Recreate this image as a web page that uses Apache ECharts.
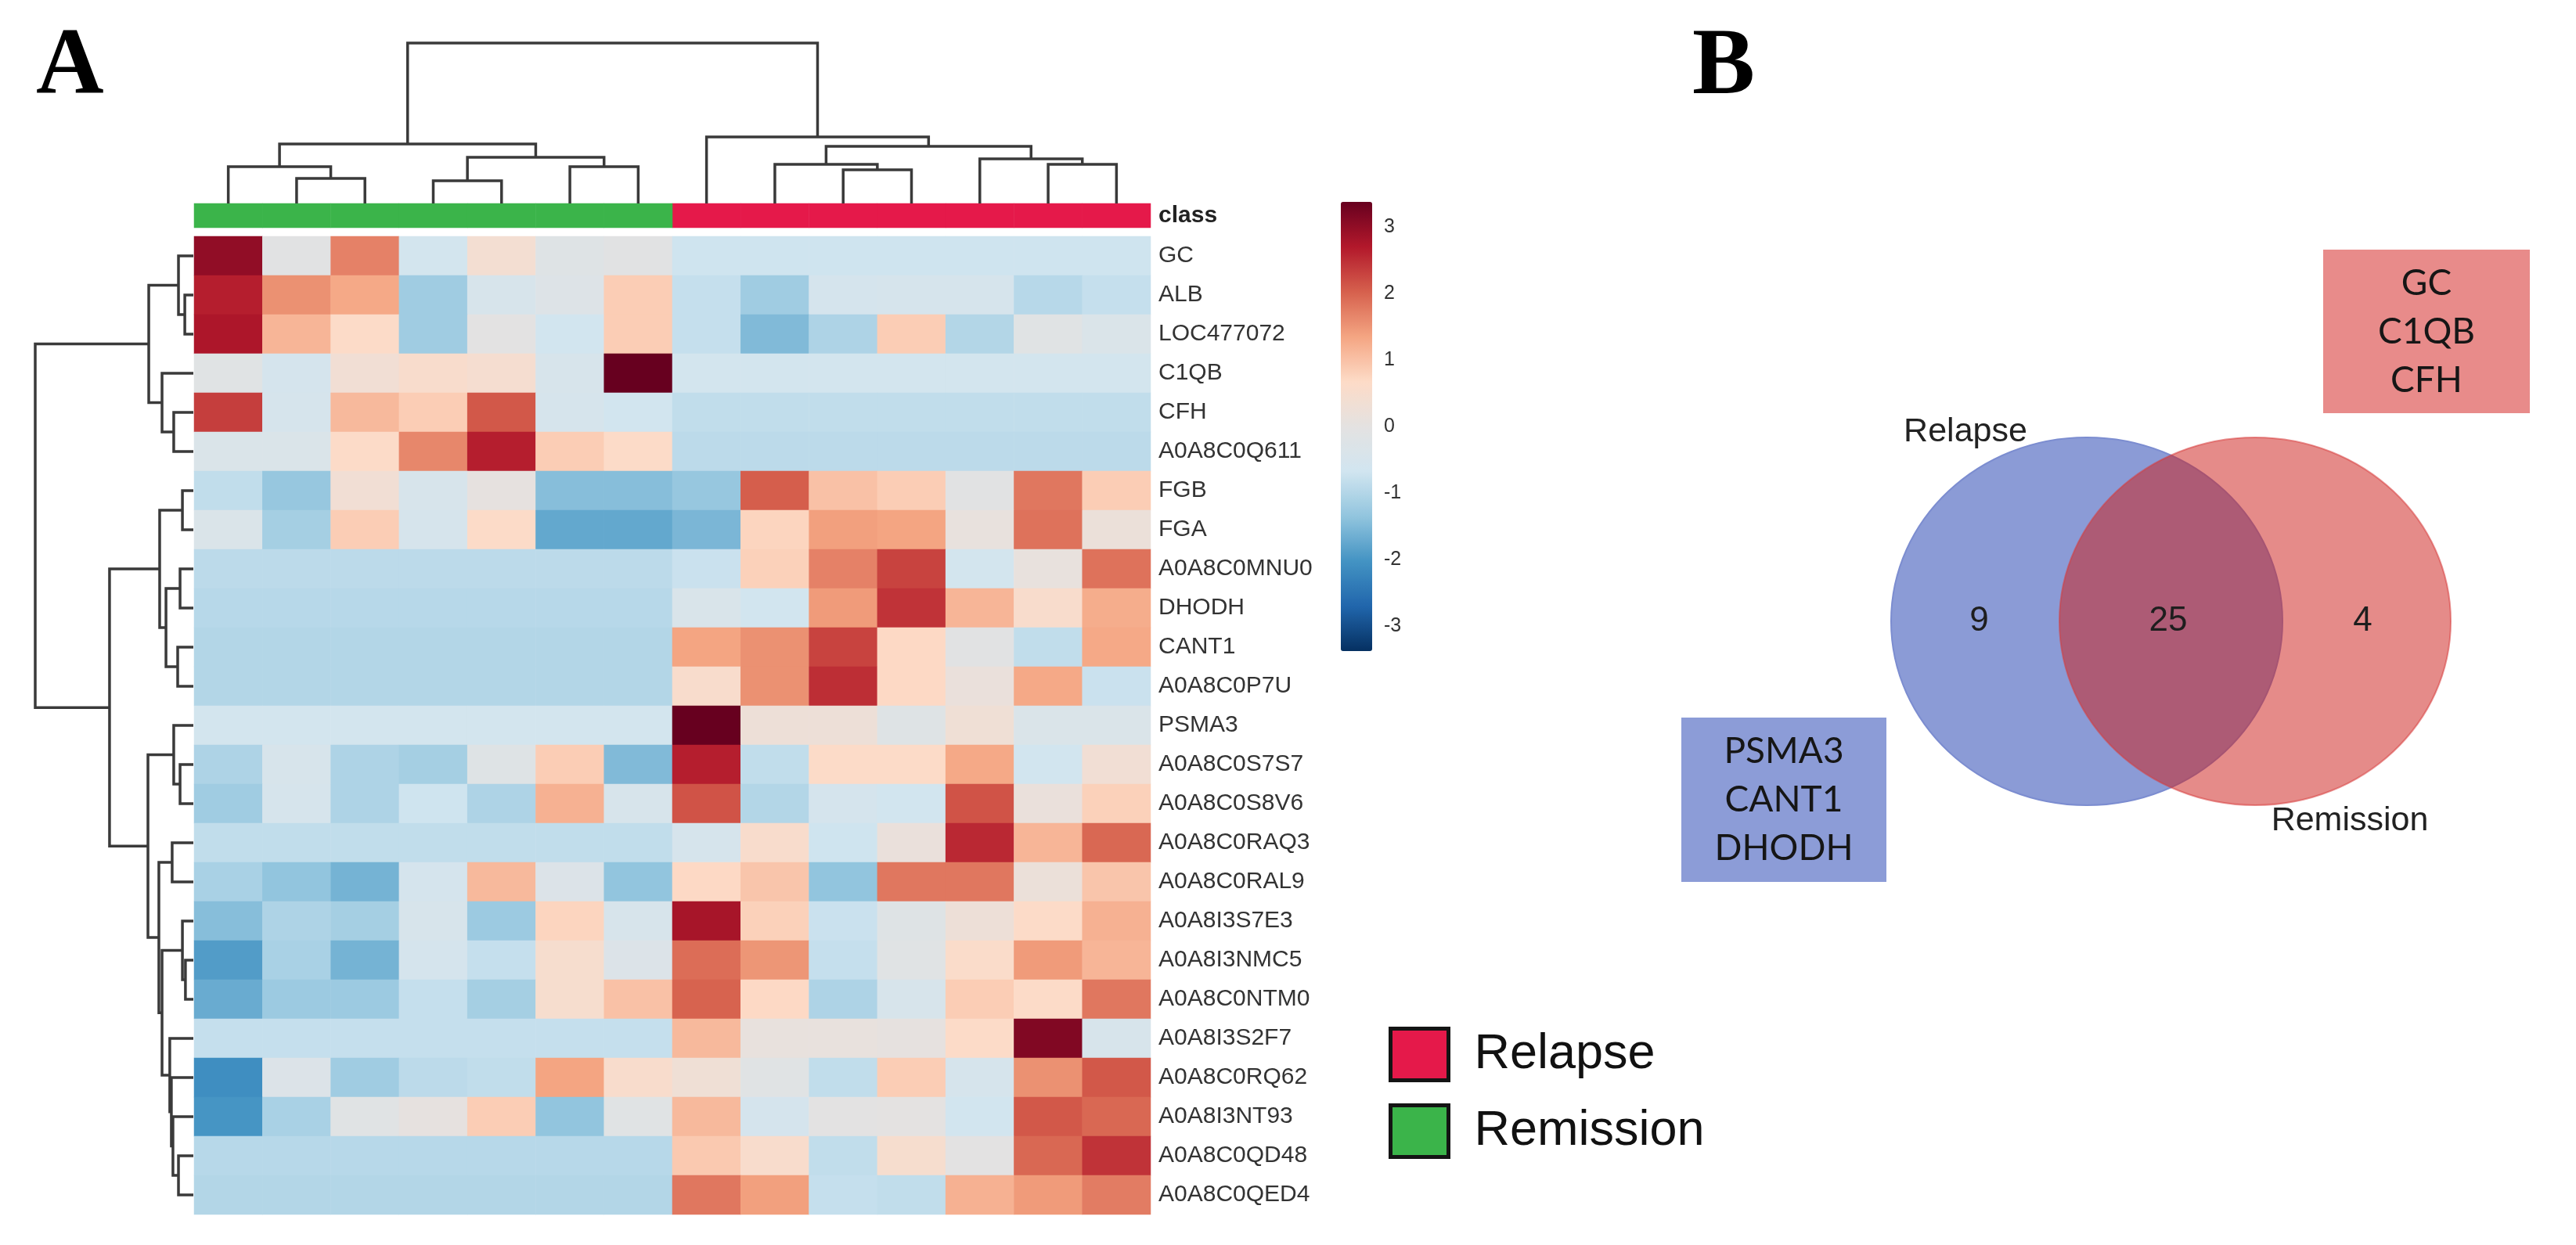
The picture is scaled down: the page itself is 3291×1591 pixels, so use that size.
<!DOCTYPE html>
<html><head><meta charset="utf-8">
<script src="https://cdn.jsdelivr.net/npm/echarts@6/dist/echarts.min.js"></script>
<style>html,body{margin:0;padding:0;background:#fff}#c{width:3291px;height:1591px}</style>
</head><body><div id="c"></div>
<script>
// ---------------- DATA ----------------
const proteins = ['GC','ALB','LOC477072','C1QB','CFH','A0A8C0Q611','FGB','FGA','A0A8C0MNU0','DHODH','CANT1','A0A8C0P7U','PSMA3','A0A8C0S7S7','A0A8C0S8V6','A0A8C0RAQ3','A0A8C0RAL9','A0A8I3S7E3','A0A8I3NMC5','A0A8C0NTM0','A0A8I3S2F7','A0A8C0RQ62','A0A8I3NT93','A0A8C0QD48','A0A8C0QED4'];
const samples = ['S1','S2','S3','S4','S5','S6','S7','S8','S9','S10','S11','S12','S13','S14'];
const sampleClass = ['Remission','Remission','Remission','Remission','Remission','Remission','Remission','Relapse','Relapse','Relapse','Relapse','Relapse','Relapse','Relapse'];
const classNames = ['Relapse','Remission'];
// z-scores, one row per protein, columns in sample order
const zGC    = [3.0,-0.1,1.7,-0.6,0.4,-0.2,-0.1,-0.7,-0.7,-0.7,-0.7,-0.7,-0.7,-0.7];
const zALB   = [2.65,1.55,1.3,-1.2,-0.45,-0.25,0.85,-0.8,-1.2,-0.55,-0.5,-0.5,-0.95,-0.8];
const zLOC   = [2.75,1.15,0.65,-1.2,-0.05,-0.65,0.85,-0.8,-1.5,-1.05,0.85,-1.0,-0.15,-0.35];
const zC1QB  = [-0.15,-0.55,0.35,0.55,0.45,-0.45,3.4,-0.6,-0.6,-0.6,-0.6,-0.6,-0.6,-0.6];
const zCFH   = [2.35,-0.5,1.1,0.85,2.1,-0.5,-0.65,-0.85,-0.85,-0.85,-0.85,-0.85,-0.85,-0.85];
const zQ611  = [-0.35,-0.35,0.65,1.65,2.65,0.85,0.65,-0.9,-0.9,-0.9,-0.9,-0.9,-0.9,-0.9];
const zFGB   = [-0.85,-1.3,0.35,-0.45,0.05,-1.45,-1.45,-1.3,2.05,1.0,0.85,-0.1,1.8,0.85];
const zFGA   = [-0.35,-1.15,0.85,-0.5,0.65,-1.75,-1.75,-1.55,0.75,1.4,1.35,0.1,1.85,0.2];
const zMNU0  = [-0.9,-0.9,-0.9,-0.9,-0.9,-0.9,-0.9,-0.75,0.8,1.7,2.3,-0.6,0.1,1.85];
const zDHODH = [-0.95,-0.95,-0.95,-0.95,-0.95,-0.95,-0.95,-0.4,-0.65,1.45,2.45,1.15,0.55,1.25];
const zCANT1 = [-1.0,-1.0,-1.0,-1.0,-1.0,-1.0,-1.0,1.35,1.55,2.3,0.7,-0.1,-0.85,1.3];
const zP7U   = [-1.0,-1.0,-1.0,-1.0,-1.0,-1.0,-1.0,0.55,1.55,2.5,0.7,0.15,1.3,-0.75];
const zPSMA3 = [-0.6,-0.6,-0.6,-0.6,-0.6,-0.6,-0.6,3.4,0.25,0.25,-0.2,0.3,-0.35,-0.35];
const zS7S7  = [-1.05,-0.45,-1.05,-1.15,-0.2,0.85,-1.5,2.65,-0.85,0.65,0.65,1.3,-0.65,0.35];
const zS8V6  = [-1.2,-0.5,-1.05,-0.7,-1.05,1.2,-0.45,2.15,-1.0,-0.55,-0.65,2.15,0.15,0.8];
const zRAQ3  = [-0.85,-0.85,-0.85,-0.85,-0.85,-0.85,-0.85,-0.5,0.55,-0.7,0.15,2.55,1.15,1.95];
const zRAL9  = [-1.1,-1.35,-1.6,-0.55,1.1,-0.3,-1.35,0.7,0.95,-1.35,1.8,1.8,0.2,0.95];
const zS7E3  = [-1.45,-1.05,-1.15,-0.45,-1.25,0.75,-0.45,2.8,0.8,-0.75,-0.2,0.25,0.65,1.2];
const zNMC5  = [-1.9,-1.1,-1.6,-0.55,-0.8,0.5,-0.3,1.9,1.5,-0.8,-0.15,0.6,1.45,1.15];
const zNTM0  = [-1.7,-1.25,-1.25,-0.8,-1.15,0.5,1.0,2.0,0.7,-1.05,-0.45,0.85,0.65,1.8];
const zS2F7  = [-0.8,-0.8,-0.8,-0.8,-0.8,-0.8,-0.8,1.1,0.1,0.1,0.05,0.65,3.15,-0.45];
const zRQ62  = [-2.1,-0.3,-1.2,-0.9,-0.85,1.35,0.55,0.3,-0.15,-0.85,0.85,-0.5,1.55,2.1];
const zNT93  = [-2.0,-1.1,-0.15,0.05,0.85,-1.35,-0.15,1.1,-0.55,-0.05,0.0,-0.65,2.1,1.95];
const zQD48  = [-0.95,-0.95,-0.95,-0.95,-0.95,-0.95,-0.95,0.9,0.55,-0.85,0.5,-0.05,1.95,2.45];
const zQED4  = [-1.0,-1.0,-1.0,-1.0,-1.0,-1.0,-1.0,1.8,1.4,-0.8,-0.85,1.2,1.45,1.75];
const zRows = [zGC,zALB,zLOC,zC1QB,zCFH,zQ611,zFGB,zFGA,zMNU0,zDHODH,zCANT1,zP7U,zPSMA3,zS7S7,zS8V6,zRAQ3,zRAL9,zS7E3,zNMC5,zNTM0,zS2F7,zRQ62,zNT93,zQD48,zQED4];

// column dendrogram: [childA, childB, height]; leaves 0..13, new nodes numbered from 14
const colMerges = [[1,2,1.56],[0,14,2.29],[3,4,1.41],[5,6,2.29],[16,17,2.88],[15,18,3.71],[9,10,2.1],[8,20,2.44],[12,13,2.44],[11,22,2.78],[21,23,3.56],[7,24,4.15],[19,25,10]];
// row dendrogram: leaves 0..24, new nodes numbered from 25
const rowMerges = [[1,2,0.54],[0,25,0.94],[4,5,1.24],[3,27,1.98],[26,28,2.82],[6,7,0.69],[8,9,0.84],[10,11,0.99],[31,32,1.73],[30,33,2.13],[13,14,0.84],[12,35,1.24],[15,16,1.34],[18,19,0.5],[17,38,0.69],[23,24,0.94],[22,40,1.29],[21,41,1.39],[20,42,1.49],[39,43,1.98],[37,44,2.18],[36,45,2.87],[34,46,5.3],[29,47,10]];

const colorbarTicks = [-3,-2,-1,0,1,2,3];

// Venn
const vennSetNames = ['Relapse','Remission'];
const vennCounts = [9,25,4]; // Relapse only, both, Remission only
const relapseOnlyMarkers = ['PSMA3','CANT1','DHODH'];
const remissionOnlyMarkers = ['GC','C1QB','CFH'];

// ---------------- LAYOUT / STYLE ----------------
const rdbu = ['#053061','#2166ac','#4393c3','#92c5de','#d1e5f0','#e4e2e1','#fddbc7','#f4a582','#d6604d','#b2182b','#67001f'];
const classColor = {Relapse:'#e5194a', Remission:'#3bb44a'};
const vennGeom = {centers:[[0,0],[0.86,0]], r:1, countPos:[[-0.55,0],[0.416,0],[1.41,0]], namePos:[[-0.62,1.03],[1.344,-1.085]]};
const vennFill = ['#8b9bd6','rgba(205,32,28,0.52)'];
const vennStroke = ['#7c8dd0','rgba(215,60,60,0.55)'];

function buildDendro(nLeaves, merges){
  const pos=[], ht=[];
  for(let i=0;i<nLeaves;i++){pos.push(i);ht.push(0);}
  const segs=[];
  merges.forEach(m=>{const a=m[0],b=m[1],h=m[2];segs.push([pos[a],pos[b],ht[a],ht[b],h]);pos.push((pos[a]+pos[b])/2);ht.push(h);});
  return segs;
}
const colSegs = buildDendro(samples.length, colMerges);
const rowSegs = buildDendro(proteins.length, rowMerges);

const heatData=[];
zRows.forEach((row,r)=>row.forEach((v,c)=>heatData.push([c,r,v])));

const classSeries = classNames.map(cn=>({
  type:'heatmap', name:cn, xAxisIndex:1, yAxisIndex:1,
  data: samples.map((s,i)=>[i,0,1]).filter((d,i)=>sampleClass[i]===cn),
  itemStyle:{color:classColor[cn], borderWidth:0}, emphasis:{disabled:true}, silent:true
}));

const dendroStyle = {stroke:'#3a3a3a', lineWidth:3.5, fill:null};
const FONT = '"Liberation Sans", Arial, sans-serif';

const option = {
  animation:false,
  backgroundColor:'#fff',
  grid:[
    {left:248, top:302, width:1222, height:1250, outerBoundsMode:'none'},
    {left:248, top:260, width:1222, height:31, outerBoundsMode:'none'},
    {left:248, top:55, width:1222, height:205, outerBoundsMode:'none'},
    {left:45, top:302, width:202, height:1250, outerBoundsMode:'none'},
    {left:1713, top:258, width:40, height:574, outerBoundsMode:'none'},
    {left:2366, top:512, width:815, height:564, outerBoundsMode:'none'}
  ],
  xAxis:[
    {type:'category', gridIndex:0, data:samples, show:false},
    {type:'category', gridIndex:1, data:samples, show:false},
    {type:'value', gridIndex:2, min:-0.5, max:13.5, show:false},
    {type:'value', gridIndex:3, min:0, max:10, inverse:true, show:false},
    {type:'value', gridIndex:4, min:0, max:1, show:false},
    {type:'value', gridIndex:5, min:-1.2, max:2.06, show:false}
  ],
  yAxis:[
    {type:'category', gridIndex:0, data:proteins, inverse:true, position:'right',
     axisLine:{show:false}, axisTick:{show:false}, splitLine:{show:false},
     axisLabel:{fontSize:30, color:'#333', margin:10, fontFamily:FONT}},
    {type:'category', gridIndex:1, data:['class'], position:'right',
     axisLine:{show:false}, axisTick:{show:false}, splitLine:{show:false},
     axisLabel:{fontSize:30, color:'#222', fontWeight:'bold', margin:10, fontFamily:FONT}},
    {type:'value', gridIndex:2, min:0, max:10, show:false},
    {type:'value', gridIndex:3, min:-0.5, max:24.5, inverse:true, show:false},
    {type:'value', gridIndex:4, min:-3.38, max:3.38, position:'right',
     axisLine:{show:false}, axisTick:{show:false}, splitLine:{show:false},
     axisLabel:{customValues:colorbarTicks, fontSize:25, color:'#333', margin:15, fontFamily:FONT}},
    {type:'value', gridIndex:5, min:-1.2, max:1.2, show:false}
  ],
  visualMap:[{
    type:'continuous', seriesIndex:0, min:-3.38, max:3.38, calculable:false,
    inRange:{color:rdbu}, left:1713, top:258, itemWidth:40, itemHeight:574,
    padding:0, text:null, show:true
  }],
  legend:{
    data:['Relapse','Remission'], orient:'vertical', left:1769, top:1307,
    icon:'rect', itemWidth:74, itemHeight:66, itemGap:27,
    itemStyle:{borderColor:'#141414', borderWidth:5},
    textStyle:{fontSize:63, color:'#111', fontFamily:FONT, padding:[0,0,0,28], lineHeight:66},
    selectedMode:false
  },
  series:[
    {type:'heatmap', name:'z', xAxisIndex:0, yAxisIndex:0, data:heatData,
     itemStyle:{borderWidth:0}, emphasis:{disabled:true}, silent:true},
    classSeries[0], classSeries[1],
    {type:'custom', name:'colDendro', xAxisIndex:2, yAxisIndex:2, data:colSegs, silent:true,
     encode:{x:[0,1], y:[2,3,4]},
     renderItem:(p,api)=>{const x1=api.value(0),x2=api.value(1),h1=api.value(2),h2=api.value(3),hm=api.value(4);
       return {type:'polyline', shape:{points:[api.coord([x1,h1]),api.coord([x1,hm]),api.coord([x2,hm]),api.coord([x2,h2])]}, style:dendroStyle};}},
    {type:'custom', name:'rowDendro', xAxisIndex:3, yAxisIndex:3, data:rowSegs, silent:true,
     encode:{x:[2,3,4], y:[0,1]},
     renderItem:(p,api)=>{const y1=api.value(0),y2=api.value(1),h1=api.value(2),h2=api.value(3),hm=api.value(4);
       return {type:'polyline', shape:{points:[api.coord([h1,y1]),api.coord([hm,y1]),api.coord([hm,y2]),api.coord([h2,y2])]}, style:dendroStyle};}},
    {type:'custom', name:'venn', xAxisIndex:5, yAxisIndex:5, silent:true,
     data: vennSetNames.map((n,i)=>[vennGeom.centers[i][0], vennGeom.centers[i][1], vennGeom.r]),
     encode:{x:0, y:1},
     renderItem:(p,api)=>{const c=api.coord([api.value(0),api.value(1)]); const s=api.size([api.value(2),api.value(2)]);
       return {type:'ellipse', shape:{cx:c[0], cy:c[1], rx:s[0], ry:s[1]}, style:{fill:vennFill[p.dataIndex], stroke:vennStroke[p.dataIndex], lineWidth:2}};}},
    {type:'custom', name:'vennCounts', xAxisIndex:5, yAxisIndex:5, silent:true,
     data: vennCounts.map((v,i)=>[vennGeom.countPos[i][0], vennGeom.countPos[i][1], v]),
     encode:{x:0, y:1}, z:5,
     renderItem:(p,api)=>{const c=api.coord([api.value(0),api.value(1)]);
       return {type:'text', x:c[0], y:c[1], style:{text:String(api.value(2)), align:'center', verticalAlign:'middle', fontSize:44, fontFamily:FONT, fill:'#1e1e1e'}};}},
    {type:'custom', name:'vennNames', xAxisIndex:5, yAxisIndex:5, silent:true,
     data: vennSetNames.map((n,i)=>[vennGeom.namePos[i][0], vennGeom.namePos[i][1], i]),
     encode:{x:0, y:1}, z:5,
     renderItem:(p,api)=>{const c=api.coord([api.value(0),api.value(1)]);
       return {type:'text', x:c[0], y:c[1], style:{text:vennSetNames[api.value(2)], align:'center', verticalAlign:'middle', fontSize:43, fontFamily:FONT, fill:'#222'}};}}
  ],
  graphic:{elements:[
    {type:'text', x:46, y:87, silent:true, style:{text:'A', font:'bold 120px "Liberation Serif", serif', fill:'#000', align:'left', verticalAlign:'middle'}},
    {type:'text', x:2162, y:88, silent:true, style:{text:'B', font:'bold 120px "Liberation Serif", serif', fill:'#000', align:'left', verticalAlign:'middle'}},
    {type:'rect', silent:true, shape:{x:2968, y:319, width:264, height:209}, style:{fill:'#e88b8a'}},
    {type:'text', x:3100, y:424, silent:true, style:{text:remissionOnlyMarkers.join('\n'), font:'46px Lato, "Open Sans", sans-serif', lineHeight:62, fill:'#161616', align:'center', verticalAlign:'middle'}},
    {type:'rect', silent:true, shape:{x:2148, y:917, width:262, height:210}, style:{fill:'#8c9cd7'}},
    {type:'text', x:2279, y:1022, silent:true, style:{text:relapseOnlyMarkers.join('\n'), font:'46px Lato, "Open Sans", sans-serif', lineHeight:62, fill:'#161616', align:'center', verticalAlign:'middle'}}
  ]}
};
const chart = echarts.init(document.getElementById('c'), null, {width:3291, height:1591});
chart.setOption(option);
</script></body></html>
